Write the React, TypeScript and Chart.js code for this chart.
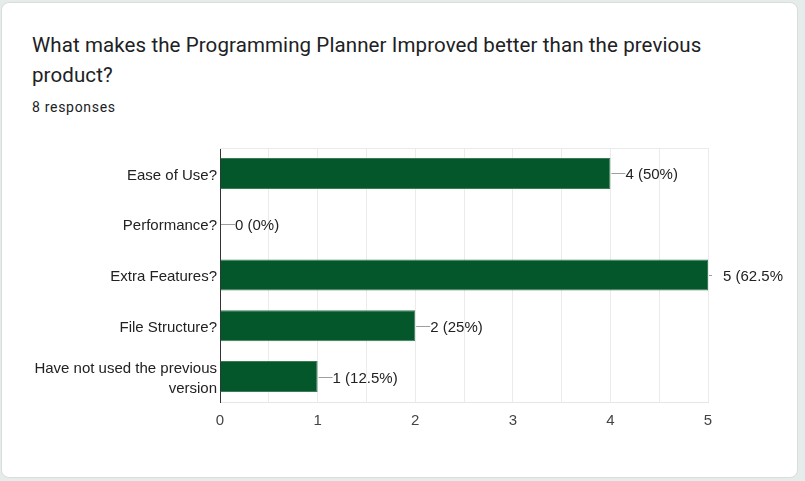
import React, { useEffect, useRef } from "react";
import { Chart, registerables } from "chart.js";

Chart.register(...registerables);

const TITLE = "What makes the Programming Planner Improved better than the previous product?";
const RESPONSES_TEXT = "8 responses";
const TOTAL_RESPONSES = 8;
const categories: (string | string[])[] = [
  "Ease of Use?",
  "Performance?",
  "Extra Features?",
  "File Structure?",
  ["Have not used the previous", "version"],
];
const counts = [4, 0, 5, 2, 1];
const xMax = 5;

const FONT = "'Liberation Sans', Arial, sans-serif";

const valueLabelPlugin = {
  id: "valueLabels",
  afterDatasetsDraw(chart: any) {
    const { ctx } = chart;
    const meta = chart.getDatasetMeta(0);
    const xScale = chart.scales.x;
    ctx.save();
    ctx.font = `15px ${FONT}`;
    ctx.textBaseline = "middle";
    ctx.textAlign = "left";
    meta.data.forEach((bar: any, i: number) => {
      const v = counts[i];
      const pct = Math.round((v / TOTAL_RESPONSES) * 1000) / 10;
      const text = `${v} (${pct}%)`;
      const x0 = xScale.getPixelForValue(v);
      const y = Math.round(bar.y) + 0.5;
      const atEdge = v >= xMax;
      const lineLen = atEdge ? 3 : 14;
      const textX = x0 + 15;
      ctx.strokeStyle = "#9e9e9e";
      ctx.lineWidth = 1;
      ctx.beginPath();
      ctx.moveTo(x0 + 1, y);
      ctx.lineTo(x0 + 1 + lineLen, y);
      ctx.stroke();
      ctx.fillStyle = "#222222";
      ctx.fillText(text, textX, y + 1);
    });
    ctx.restore();
  },
};

const frameTopPlugin = {
  id: "frameTop",
  beforeDatasetsDraw(chart: any) {
    const { ctx, chartArea } = chart;
    ctx.save();
    ctx.strokeStyle = "#ebebeb";
    ctx.lineWidth = 1;
    ctx.beginPath();
    ctx.moveTo(chartArea.left, Math.round(chartArea.top) + 0.5);
    ctx.lineTo(chartArea.right, Math.round(chartArea.top) + 0.5);
    ctx.stroke();
    ctx.restore();
  },
};

export default function App() {
  const canvasRef = useRef<HTMLCanvasElement | null>(null);

  useEffect(() => {
    document.body.style.margin = "0";
    const canvas = canvasRef.current;
    if (!canvas) return;
    const chart = new Chart(canvas, {
      type: "bar",
      data: {
        labels: categories,
        datasets: [
          {
            data: counts,
            backgroundColor: "#03572b",
            borderColor: "#3a7d55",
            borderWidth: 1,
            barPercentage: 0.61,
            categoryPercentage: 1,
          },
        ],
      },
      options: {
        indexAxis: "y",
        animation: false,
        responsive: false,
        maintainAspectRatio: false,
        layout: { padding: { top: 8, right: 75, bottom: 0, left: 0 } },
        plugins: {
          legend: { display: false },
          tooltip: { enabled: false },
          title: { display: false },
        },
        scales: {
          x: {
            min: 0,
            max: xMax,
            ticks: {
              stepSize: 0.5,
              autoSkip: false,
              maxRotation: 0,
              padding: 10,
              color: "#444444",
              font: { family: FONT, size: 15 },
              callback: (val: any) => (Number(val) % 1 === 0 ? String(val) : ""),
            },
            grid: { color: "#ebebeb", drawTicks: false, lineWidth: 1 },
            border: { display: true, color: "#e6e6e6" },
            afterFit: (scale: any) => {
              scale.height = 38;
              scale.paddingLeft = 0;
              scale.paddingRight = 0;
            },
          },
          y: {
            ticks: {
              padding: 3,
              labelOffset: 2,
              color: "#222222",
              font: { family: FONT, size: 15, lineHeight: 1.35 },
            },
            grid: { display: false, drawTicks: false },
            border: { display: true, color: "#333333", width: 1 },
            afterFit: (scale: any) => {
              scale.width = 220;
              scale.paddingTop = 0;
              scale.paddingBottom = 0;
            },
          },
        },
      },
      plugins: [frameTopPlugin, valueLabelPlugin],
    });
    return () => chart.destroy();
  }, []);

  return (
    <div
      style={{
        position: "fixed",
        left: 0,
        top: 0,
        width: 805,
        height: 481,
        background: "#e5ece9",
        overflow: "hidden",
      }}
    >
      <div
        style={{
          position: "absolute",
          left: 1,
          top: 2,
          width: 795,
          height: 474,
          background: "#ffffff",
          border: "1px solid #dadce0",
          borderRadius: 8,
        }}
      />
      <div
        style={{
          position: "absolute",
          left: 32,
          top: 30,
          width: 720,
          fontFamily: "Roboto, sans-serif",
          fontSize: 20.5,
          letterSpacing: 0.1,
          lineHeight: "30px",
          color: "#202124",
        }}
      >
        {TITLE}
      </div>
      <div
        style={{
          position: "absolute",
          left: 32,
          top: 97,
          fontFamily: "Roboto, sans-serif",
          fontSize: 14,
          lineHeight: "20px",
          color: "#202124",
          letterSpacing: 0.7,
        }}
      >
        {RESPONSES_TEXT}
      </div>
      <canvas
        ref={canvasRef}
        width={783}
        height={300}
        style={{ position: "absolute", left: 0, top: 140, width: 783, height: 300 }}
      />
    </div>
  );
}
